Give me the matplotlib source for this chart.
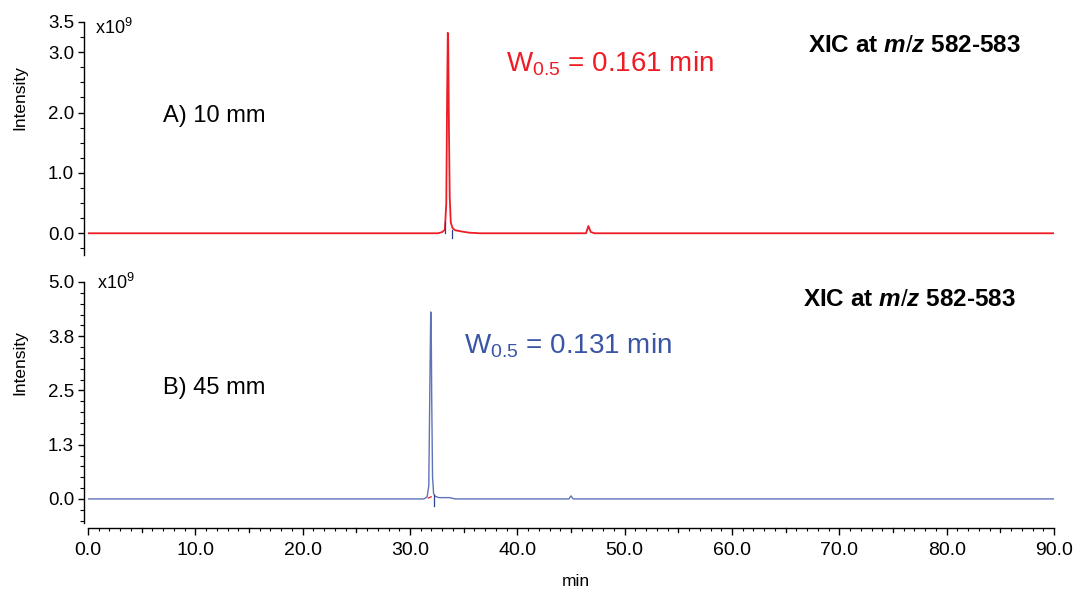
import matplotlib
matplotlib.use("Agg")
import matplotlib.pyplot as plt
import matplotlib.lines as mlines
from matplotlib.ticker import MultipleLocator, FixedLocator, FixedFormatter

plt.rcParams['font.family'] = ['Liberation Sans', 'DejaVu Sans']
plt.rcParams['mathtext.fontset'] = 'custom'
plt.rcParams['mathtext.rm'] = 'Liberation Sans'
plt.rcParams['mathtext.it'] = 'Liberation Sans:italic:bold'
plt.rcParams['mathtext.default'] = 'regular'

# ---------------- data ----------------
# Panel A (10 mm), intensity in units of 1e9
time_a = [0.0, 32.6, 33.0, 33.25, 33.38, 33.46, 33.52, 33.56, 33.62, 33.70, 33.80, 33.95,
          34.2, 34.8, 35.5, 36.5, 46.4, 46.62, 46.85, 47.2, 90.0]
int_a = [0.0, 0.0, 0.02, 0.06, 0.5, 2.3, 3.32, 3.20, 1.9, 0.6, 0.18, 0.09,
         0.05, 0.03, 0.01, 0.0, 0.0, 0.12, 0.02, 0.0, 0.0]

# Panel B (45 mm)
time_b = [0.0, 31.3, 31.6, 31.75, 31.85, 31.93, 31.97, 32.02, 32.10, 32.2, 32.35, 32.7,
          33.7, 34.2, 44.8, 45.0, 45.2, 90.0]
int_b = [0.0, 0.0, 0.05, 0.3, 2.6, 4.31, 4.25, 2.4, 0.5, 0.12, 0.06, 0.03,
         0.03, 0.0, 0.0, 0.07, 0.0, 0.0]

# integration markers  (time, y_low, y_high)
markers_a = [(33.27, 0.0, 0.18), (33.89, -0.08, 0.05)]
markers_b = [(32.27, -0.16, 0.09)]
red_seg_b_t = [31.7, 31.98]
red_seg_b_y = [0.02, 0.05]

ylim_a = (-0.36, 3.5)
ylim_b = (-0.67, 5.0)
yticks_a = [0.0, 1.0, 2.0, 3.0, 3.5]
yticks_b = [0.0, 1.25, 2.5, 3.75, 5.0]
ylabels_b = ['0.0', '1.3', '2.5', '3.8', '5.0']
xticks = [0, 10, 20, 30, 40, 50, 60, 70, 80, 90]
xticks_mid = [5, 15, 25, 35, 45, 55, 65, 75, 85]

w_a = "0.161"
w_b = "0.131"
labels = ["A) 10 mm", "B) 45 mm"]

RED = '#ee1c25'
BLUE_TXT = '#3a55a4'
BLUE_LINE = '#5f72ba'
MARK_BLUE = '#2a3f8f'

W, H = 1085, 590
fig = plt.figure(figsize=(W / 100, H / 100), dpi=100)


def fx(px):
    return px / W


def fy(py):
    return 1 - py / H


ax_a = fig.add_axes([fx(88), fy(255), fx(1054 - 88), fy(22) - fy(255)])
ax_b = fig.add_axes([fx(88), fy(528), fx(1054 - 88), fy(282) - fy(528)])

for ax in (ax_a, ax_b):
    ax.set_xlim(0, 90)
    ax.spines['top'].set_visible(False)
    ax.spines['right'].set_visible(False)
    ax.spines['left'].set_position(('outward', 3))
    ax.spines['left'].set_linewidth(1.0)
    ax.yaxis.set_minor_locator(MultipleLocator(0.25))
    ax.tick_params(axis='y', which='major', direction='out', length=4, width=1.0,
                   labelsize=13.5, pad=3)
    ax.tick_params(axis='y', which='minor', direction='out', length=3, width=0.8)
    ax.set_ylabel('Intensity', fontsize=12.5)
    ax.patch.set_visible(False)

# Panel A
ax_a.set_ylim(*ylim_a)
ax_a.spines['bottom'].set_visible(False)
ax_a.tick_params(axis='x', which='both', bottom=False, labelbottom=False)
ax_a.yaxis.set_major_locator(FixedLocator(yticks_a))
ax_a.yaxis.set_major_formatter(FixedFormatter([f"{v:.1f}" for v in yticks_a]))
ax_a.plot(time_a, int_a, color=RED, lw=1.3, solid_joinstyle='round')
for t, y0, y1 in markers_a:
    ax_a.plot([t, t], [y0, y1], color=MARK_BLUE, lw=0.9)

# Panel B
ax_b.set_ylim(*ylim_b)
ax_b.spines['left'].set_bounds(-0.55, 5.0)
ax_b.yaxis.set_major_locator(FixedLocator(yticks_b))
ax_b.yaxis.set_major_formatter(FixedFormatter(ylabels_b))
ax_b.plot(time_b, int_b, color=BLUE_LINE, lw=1.0, solid_joinstyle='round')
ax_b.plot(red_seg_b_t, red_seg_b_y, color=RED, lw=0.9)
for t, y0, y1 in markers_b:
    ax_b.plot([t, t], [y0, y1], color=MARK_BLUE, lw=0.9)

ax_b.spines['bottom'].set_linewidth(1.0)
ax_b.xaxis.set_major_locator(FixedLocator(xticks))
ax_b.xaxis.set_major_formatter(FixedFormatter([f"{v:.1f}" for v in xticks]))
ax_b.xaxis.set_minor_locator(MultipleLocator(1))
ax_b.tick_params(axis='x', which='major', direction='out', length=5, width=1.0,
                 labelsize=14, pad=5)
ax_b.tick_params(axis='x', which='minor', direction='out', length=2.5, width=0.8)

# medium ticks every 5 min
for t in xticks_mid:
    xfig = fx(88) + t / 90 * fx(1054 - 88)
    fig.add_artist(mlines.Line2D([xfig, xfig], [fy(528), fy(532)], color='black', lw=0.9))

# y label positions
for ax, yc in ((ax_a, 98), (ax_b, 363)):
    pos = ax.get_position()
    ax.yaxis.set_label_coords((fx(20) - pos.x0) / pos.width, (fy(yc) - pos.y0) / pos.height)
    ax.yaxis.label.set_verticalalignment('center')
    ax.yaxis.label.set_horizontalalignment('center')

# texts
fig.text(fx(95), fy(28), r'x10$^{9}$', fontsize=13, va='center', ha='left')
fig.text(fx(97), fy(283), r'x10$^{9}$', fontsize=13, va='center', ha='left')
fig.text(fx(163), fy(116), labels[0], fontsize=17, va='center', ha='left')
fig.text(fx(163), fy(388), labels[1], fontsize=17, va='center', ha='left')
fig.text(fx(506), fy(64), r'W$_{0.5}$ = ' + w_a + ' min', fontsize=20, color=RED,
         va='center', ha='left')
fig.text(fx(464), fy(346), r'W$_{0.5}$ = ' + w_b + ' min', fontsize=20, color=BLUE_TXT,
         va='center', ha='left')
fig.text(fx(808), fy(45), r'XIC at $\mathit{m/z}$ 582-583', fontsize=17.5, fontweight='bold',
         va='center', ha='left')
fig.text(fx(803), fy(300), r'XIC at $\mathit{m/z}$ 582-583', fontsize=17.5, fontweight='bold',
         va='center', ha='left')
fig.text(fx(576), fy(582), 'min', fontsize=12.5, va='center', ha='center')

fig.savefig('out.png', dpi=100)
